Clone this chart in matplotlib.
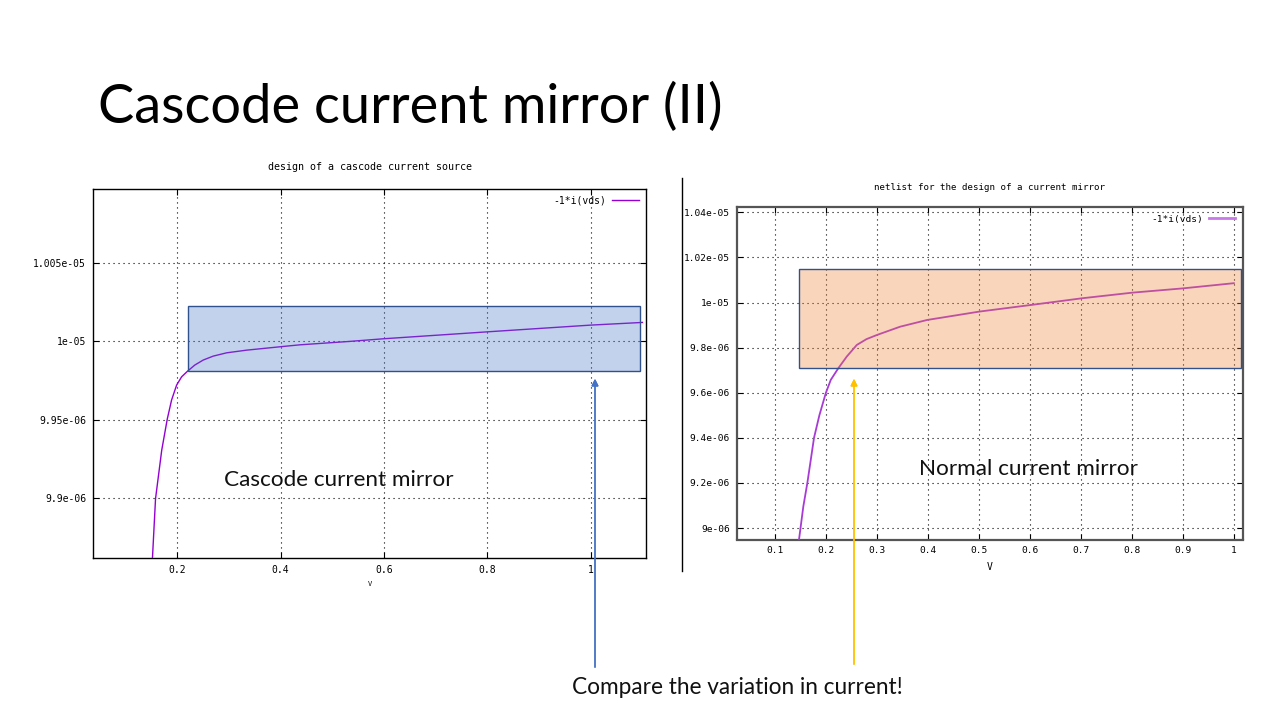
import matplotlib
matplotlib.use("Agg")
import matplotlib.pyplot as plt
from matplotlib.patches import Rectangle
from matplotlib.lines import Line2D

# ---------------- data ----------------
slide_title = "Cascode current mirror (II)"

left_title = "design of a cascode current source"
left_v = [0.151, 0.158, 0.170, 0.1807, 0.189, 0.1988, 0.2085, 0.220, 0.234, 0.2503,
          0.2696, 0.2955, 0.334, 0.400, 0.437, 0.534, 0.600, 0.800, 1.000, 1.100]
left_i = [9.855, 9.8996, 9.9306, 9.9504, 9.9625, 9.9721, 9.9774, 9.981, 9.9849, 9.9881,
          9.9906, 9.9927, 9.9944, 9.9966, 9.9978, 10.000, 10.0017, 10.0061, 10.0104, 10.0121]  # 1e-6 A
left_xticks = [0.2, 0.4, 0.6, 0.8, 1.0]
left_xticklabels = ["0.2", "0.4", "0.6", "0.8", "1"]
left_yticks = [9.90, 9.95, 10.00, 10.05]
left_yticklabels = ["9.9e-06", "9.95e-06", "1e-05", "1.005e-05"]
left_box = [0.220, 1.095, 9.9808, 10.0226]   # x0, x1, y0, y1

right_title = "netlist for the design of a current mirror"
right_v = [0.1465, 0.156, 0.164, 0.1706, 0.177, 0.1875, 0.200, 0.2098, 0.2247, 0.241, 0.2608,
           0.280, 0.300, 0.3457, 0.399, 0.424, 0.501, 0.601, 0.702, 0.801, 0.900, 1.000]
right_i = [8.93, 9.095, 9.201, 9.302, 9.400, 9.500, 9.598, 9.657, 9.709, 9.760, 9.812,
           9.838, 9.856, 9.893, 9.923, 9.932, 9.960, 9.989, 10.019, 10.044, 10.063, 10.086]  # 1e-6 A
right_xticks = [0.1, 0.2, 0.3, 0.4, 0.5, 0.6, 0.7, 0.8, 0.9, 1.0]
right_xticklabels = ["0.1", "0.2", "0.3", "0.4", "0.5", "0.6", "0.7", "0.8", "0.9", "1"]
right_yticks = [9.0, 9.2, 9.4, 9.6, 9.8, 10.0, 10.2, 10.4]
right_yticklabels = ["9e-06", "9.2e-06", "9.4e-06", "9.6e-06", "9.8e-06", "1e-05", "1.02e-05", "1.04e-05"]
right_box = [0.1476, 1.014, 9.709, 10.148]

legend_label = "-1*i(vds)"
left_note = "Cascode current mirror"
right_note = "Normal current mirror"
bottom_note = "Compare the variation in current!"

# ---------------- figure ----------------
W, H = 1280, 720
fig = plt.figure(figsize=(12.8, 7.2), dpi=100)
fig.patch.set_facecolor("white")

mono = "DejaVu Sans Mono"
sans = ["Lato", "DejaVu Sans"]


def style_axes(ax, lw, spine_color, tick_fs):
    for s in ax.spines.values():
        s.set_linewidth(lw)
        s.set_color(spine_color)
    ax.tick_params(direction="in", which="both", top=True, right=True,
                   length=4, width=0.8, labelsize=tick_fs, pad=5, colors="black")
    for lab in ax.get_xticklabels() + ax.get_yticklabels():
        lab.set_fontfamily(mono)
    ax.grid(True, color="black", linestyle=(0, (1, 3.5)), linewidth=0.8)
    ax.set_axisbelow(True)


# ---- left chart ----
axL = fig.add_axes([93 / W, (H - 558) / H, 553 / W, 369 / H])
axL.plot(left_v, left_i, color="#9400d3", lw=1.0, label=legend_label, zorder=3)
axL.set_xlim(0.037, 1.107)
axL.set_ylim(9.8617, 10.0973)
axL.set_xticks(left_xticks)
axL.set_xticklabels(left_xticklabels)
axL.set_yticks(left_yticks)
axL.set_yticklabels(left_yticklabels)
style_axes(axL, 1.0, "black", 7)
axL.set_title(left_title, fontsize=7.2, fontfamily=mono, pad=14)
axL.set_xlabel("V", fontsize=5, fontfamily=mono, labelpad=4)
axL.legend(loc="upper right", frameon=False, markerfirst=False,
           prop={"family": mono, "size": 7}, handlelength=2.8,
           handletextpad=0.6, borderaxespad=0.3)
axL.add_patch(Rectangle((left_box[0], left_box[2]), left_box[1] - left_box[0],
                        left_box[3] - left_box[2], facecolor="#4472C4", alpha=0.32,
                        edgecolor="none", zorder=4))
axL.add_patch(Rectangle((left_box[0], left_box[2]), left_box[1] - left_box[0],
                        left_box[3] - left_box[2], facecolor="none",
                        edgecolor="#2F528F", lw=1.0, zorder=5))

# ---- right chart ----
axR = fig.add_axes([737 / W, (H - 539.5) / H, 506 / W, 332.5 / H])
axR.plot(right_v, right_i, color="#a83ad6", lw=1.3, label=legend_label, zorder=3)
axR.set_xlim(0.026, 1.018)
axR.set_ylim(8.949, 10.424)
axR.set_xticks(right_xticks)
axR.set_xticklabels(right_xticklabels)
axR.set_yticks(right_yticks)
axR.set_yticklabels(right_yticklabels)
style_axes(axR, 1.6, "#555555", 6.8)
axR.set_title(right_title, fontsize=6.6, fontfamily=mono, pad=12)
axR.set_xlabel("V", fontsize=7, fontfamily=mono, labelpad=5)
legR = axR.legend(loc="upper right", frameon=False, markerfirst=False,
                  prop={"family": mono, "size": 6.8}, handlelength=2.8,
                  handletextpad=0.6, borderaxespad=0.4)
for h in legR.get_lines():
    h.set_color("#c878e8")
    h.set_linewidth(2.0)
axR.add_patch(Rectangle((right_box[0], right_box[2]), right_box[1] - right_box[0],
                        right_box[3] - right_box[2], facecolor="#ED7D31", alpha=0.32,
                        edgecolor="none", zorder=4))
axR.add_patch(Rectangle((right_box[0], right_box[2]), right_box[1] - right_box[0],
                        right_box[3] - right_box[2], facecolor="none",
                        edgecolor="#2F528F", lw=1.0, zorder=5))

# border line of the right screenshot
fig.add_artist(Line2D([681.5 / W, 681.5 / W], [(H - 571) / H, (H - 178) / H],
                      color="black", lw=1.0))

# ---- slide texts ----
fig.text(98 / W, (H - 107) / H, slide_title, fontsize=39, fontfamily=sans,
         ha="left", va="center", color="black")
fig.text(339 / W, (H - 480) / H, left_note, fontsize=16.2, fontfamily=sans,
         ha="center", va="center", color="#111111")
fig.text(1028 / W, (H - 469) / H, right_note, fontsize=16.2, fontfamily=sans,
         ha="center", va="center", color="#111111")
fig.text(737 / W, (H - 688) / H, bottom_note, fontsize=16.3, fontfamily=sans,
         ha="center", va="center", color="#111111")

# ---- arrows ----
fig.add_artist(plt.annotate("", xy=(595, H - 376), xytext=(595, H - 670),
                            xycoords="figure pixels", textcoords="figure pixels",
                            arrowprops=dict(arrowstyle="-|>", color="#4472C4", lw=1.0,
                                            mutation_scale=10)))
fig.add_artist(plt.annotate("", xy=(854, H - 376), xytext=(854, H - 667),
                            xycoords="figure pixels", textcoords="figure pixels",
                            arrowprops=dict(arrowstyle="-|>", color="#FFC000", lw=1.0,
                                            mutation_scale=10)))

fig.savefig("out.png", dpi=100)
